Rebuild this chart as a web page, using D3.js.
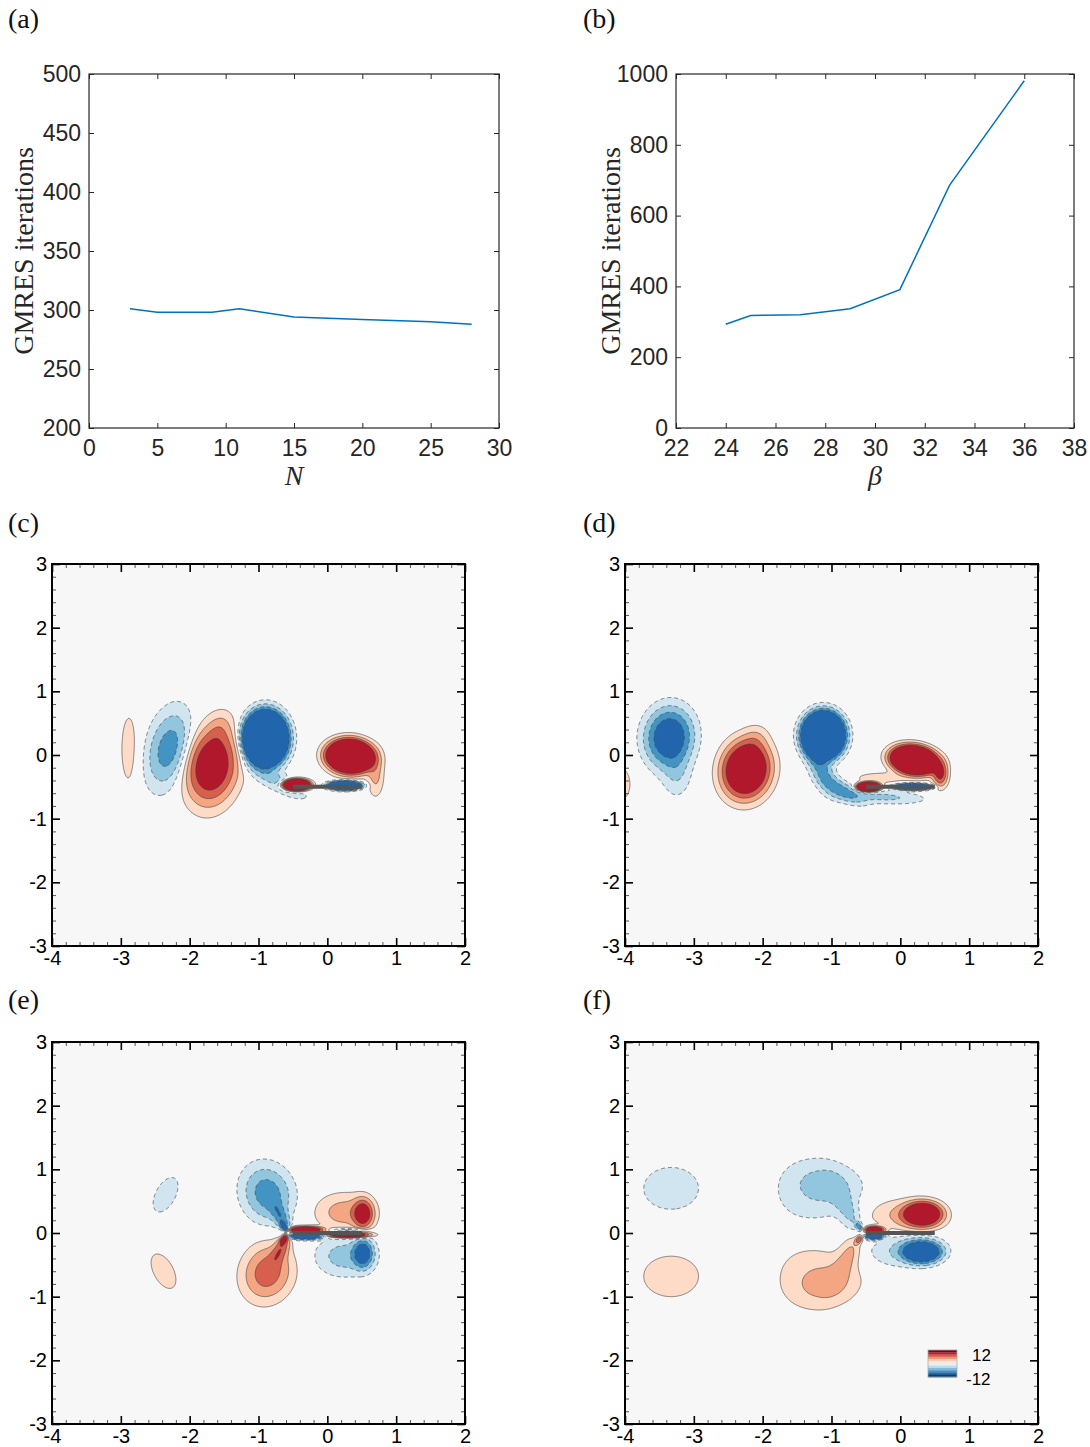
<!DOCTYPE html>
<html><head><meta charset="utf-8">
<script src="https://cdn.jsdelivr.net/npm/d3@7"></script>
<style>body{margin:0;background:#fff;} svg{display:block;}</style>
</head><body>
<script>
// ---------------- data ----------------
const nValues = [3, 5, 7, 9, 11, 15, 20, 25, 28];
const nIterations = [301, 298, 298, 298, 301, 294, 292, 290, 288];
const betaValues = [24, 25, 27, 29, 31, 33, 36];
const betaIterations = [293, 318, 320, 337, 391, 686, 981];
const aXTicks = [0, 5, 10, 15, 20, 25, 30];
const aYTicks = [200, 250, 300, 350, 400, 450, 500];
const bXTicks = [22, 24, 26, 28, 30, 32, 34, 36, 38];
const bYTicks = [0, 200, 400, 600, 800, 1000];
const fieldXTicks = [-4, -3, -2, -1, 0, 1, 2];
const fieldYTicks = [-3, -2, -1, 0, 1, 2, 3];
const contourLevels = [1, 2.5, 4.5, 7];
const posColors = ['#fddbc7', '#f4a582', '#d6604d', '#b2182b'];
const negColors = ['#d1e5f0', '#92c5de', '#4393c3', '#2166ac'];
const legendLabels = ['12', '-12'];
// vortex blobs: [cx, cy, sx, sy, angleDeg, strength]
const vorticesC = [
  [-2.88, 0.08, 0.11, 0.52, 0, 1.6],
  [-2.3, 0.1, 0.2, 0.4, -12, -6],
  [-1.68, -0.17, 0.23, 0.37, -8, 12],
  [-1.56, 0.42, 0.11, 0.18, -15, 1.6],
  [-0.9, 0.26, 0.15, 0.2, 0, -100],
  [-0.72, -0.42, 0.32, 0.1, -30, -3],
  [0.33, -0.02, 0.17, 0.13, -5, 60],
  [0.7, -0.32, 0.08, 0.22, 0, 3],
  [-0.45, -0.47, 0.1, 0.045, 0, 60],
  [0.25, -0.48, 0.12, 0.035, 0, -60]
];
const vorticesD = [
  [-4.1, -0.45, 0.18, 0.28, 0, 1.6],
  [-3.36, 0.28, 0.21, 0.28, -5, -12],
  [-3.25, -0.3, 0.14, 0.25, 0, -2.2],
  [-2.24, -0.23, 0.2, 0.26, -8, 20],
  [-2.1, 0.25, 0.12, 0.15, -15, 1.5],
  [-1.12, 0.31, 0.142, 0.17, 0, -100],
  [-1.15, -0.22, 0.1, 0.25, 25, -5],
  [-0.85, -0.55, 0.22, 0.09, -30, -5],
  [-0.25, -0.66, 0.4, 0.07, -3, -3],
  [0.2, -0.08, 0.17, 0.11, -10, 60],
  [0.58, -0.3, 0.07, 0.13, 0, 8],
  [-0.3, -0.36, 0.25, 0.06, 0, 2],
  [-0.46, -0.5, 0.085, 0.035, 0, 60],
  [0.18, -0.5, 0.13, 0.025, 0, -60]
];
const vorticesE = [
  [-2.35, 0.6, 0.15, 0.3, -25, -1.6],
  [-2.38, -0.6, 0.15, 0.3, 25, 1.6],
  [-0.87, 0.62, 0.23, 0.29, 15, -6],
  [-0.66, 0.22, 0.07, 0.2, 25, -5],
  [-0.87, -0.62, 0.23, 0.29, -15, 6],
  [-0.66, -0.22, 0.07, 0.2, -25, 5],
  [-0.62, -0.08, 0.03, 0.06, -30, 10],
  [-0.62, 0.08, 0.03, 0.06, 30, -10],
  [0.52, 0.3, 0.09, 0.14, 0, 10],
  [0.25, 0.32, 0.28, 0.2, 0, 3.5],
  [0.52, -0.32, 0.09, 0.14, 0, -10],
  [0.25, -0.36, 0.28, 0.21, 0, -3.5],
  [-0.32, 0.05, 0.15, 0.03, 0, 20],
  [-0.32, -0.05, 0.15, 0.03, 0, -20],
  [0.3, -0.03, 0.18, 0.025, 0, 20],
  [0.3, 0.05, 0.18, 0.02, 0, -4]
];
const vorticesF = [
  [-3.33, 0.7, 0.41, 0.34, 0, -1.6],
  [-3.33, -0.68, 0.41, 0.33, 0, 1.6],
  [-1.32, 0.58, 0.4, 0.4, 0, -1.6],
  [-1.05, 0.77, 0.34, 0.22, -10, -2.4],
  [-0.75, 0.33, 0.1, 0.32, 25, -2.7],
  [-0.6, 0.1, 0.03, 0.05, 30, -6],
  [-1.32, -0.62, 0.4, 0.42, 0, 1.5],
  [-1.05, -0.8, 0.32, 0.22, 10, 2.4],
  [-0.75, -0.35, 0.1, 0.32, -25, 2.7],
  [-0.6, -0.1, 0.03, 0.05, -30, 6],
  [0.33, 0.3, 0.16, 0.11, 0, 20],
  [0.08, 0.25, 0.33, 0.17, -10, 3],
  [0.32, -0.3, 0.16, 0.1, 0, -20],
  [0.08, -0.25, 0.33, 0.17, 10, -3],
  [-0.38, 0.05, 0.08, 0.03, 0, 20],
  [-0.38, -0.05, 0.08, 0.03, 0, -20]
];
const plateC = [[-0.5, -0.5], [0.5, -0.5]];
const plateD = [[-0.5, -0.5], [0.5, -0.5]];
const plateE = [[-0.5, 0], [0.5, 0]];
const plateF = [[-0.5, 0], [0.5, 0]];

// ---------------- drawing ----------------
const SANS = '"Liberation Sans", Arial, Helvetica, sans-serif';
const SERIF = '"Liberation Serif", "Times New Roman", serif';
const svg = d3.select('body').append('svg').attr('width', 1090).attr('height', 1447);

function panelLabel(x, y, t) {
  svg.append('text').attr('x', x).attr('y', y).attr('font-family', SERIF)
    .attr('font-size', 28).attr('fill', '#111').text(t);
}

function linePanel(o) {
  const xs = d3.scaleLinear(o.xDomain, [o.x0, o.x1]);
  const ys = d3.scaleLinear(o.yDomain, [o.y1, o.y0]);
  const g = svg.append('g');
  const fmt = d => String(d);
  const style = sel => {
    sel.select('.domain').remove();
    sel.selectAll('line').attr('stroke', '#262626').attr('stroke-width', 1);
    sel.selectAll('text').attr('font-family', SANS).attr('font-size', 23).attr('fill', '#262626');
  };
  g.append('g').attr('transform', `translate(0,${o.y1})`)
    .call(d3.axisBottom(xs).tickValues(o.xTicks).tickSize(-5).tickPadding(12).tickFormat(fmt)).call(style);
  g.append('g').attr('transform', `translate(0,${o.y0})`)
    .call(d3.axisTop(xs).tickValues(o.xTicks).tickSize(-5).tickFormat('')).call(style);
  g.append('g').attr('transform', `translate(${o.x0},0)`)
    .call(d3.axisLeft(ys).tickValues(o.yTicks).tickSize(-5).tickPadding(8).tickFormat(fmt)).call(style);
  g.append('g').attr('transform', `translate(${o.x1},0)`)
    .call(d3.axisRight(ys).tickValues(o.yTicks).tickSize(-5).tickFormat('')).call(style);
  g.append('rect').attr('x', o.x0).attr('y', o.y0).attr('width', o.x1 - o.x0).attr('height', o.y1 - o.y0)
    .attr('fill', 'none').attr('stroke', '#262626').attr('stroke-width', 1.2);
  const pts = o.xs.map((x, i) => [x, o.ys[i]]);
  g.append('path').datum(pts)
    .attr('d', d3.line().x(d => xs(d[0])).y(d => ys(d[1])))
    .attr('fill', 'none').attr('stroke', '#0072BD').attr('stroke-width', 1.5);
  g.append('text').attr('transform', `translate(${o.x0 - 56},${(o.y0 + o.y1) / 2}) rotate(-90)`)
    .attr('text-anchor', 'middle').attr('font-family', SERIF).attr('font-size', 28)
    .attr('fill', '#262626').text('GMRES iterations');
  g.append('text').attr('x', (o.x0 + o.x1) / 2).attr('y', o.y1 + 57)
    .attr('text-anchor', 'middle').attr('font-family', SERIF).attr('font-style', 'italic')
    .attr('font-size', 28).attr('fill', '#262626').text(o.xLabel);
}

linePanel({x0: 89, x1: 499, y0: 74, y1: 428, xDomain: [0, 30], yDomain: [200, 500],
  xTicks: aXTicks, yTicks: aYTicks, xs: nValues, ys: nIterations, xLabel: 'N'});
linePanel({x0: 676, x1: 1074, y0: 74, y1: 428, xDomain: [22, 38], yDomain: [0, 1000],
  xTicks: bXTicks, yTicks: bYTicks, xs: betaValues, ys: betaIterations, xLabel: 'β'});
panelLabel(8, 28, '(a)');
panelLabel(583, 28, '(b)');

const H = 0.01, NX = 601, NY = 601;
function computeField(blobs) {
  const v = new Float64Array(NX * NY);
  for (const [cx, cy, sx, sy, ang, amp] of blobs) {
    const t = ang * Math.PI / 180, c = Math.cos(t), s = Math.sin(t);
    const R = 4.6 * Math.max(sx, sy);
    const i0 = Math.max(0, Math.floor((cx - R + 4) / H)), i1 = Math.min(NX - 1, Math.ceil((cx + R + 4) / H));
    const j0 = Math.max(0, Math.floor((3 - (cy + R)) / H)), j1 = Math.min(NY - 1, Math.ceil((3 - (cy - R)) / H));
    const isx = 1 / (sx * sx), isy = 1 / (sy * sy);
    for (let j = j0; j <= j1; j++) {
      const dy = 3 - j * H - cy;
      for (let i = i0; i <= i1; i++) {
        const dx = -4 + i * H - cx;
        const u = dx * c + dy * s, w = -dx * s + dy * c;
        v[j * NX + i] += amp * Math.exp(-0.5 * (u * u * isx + w * w * isy));
      }
    }
  }
  return v;
}

let clipId = 0;
function fieldPanel(o) {
  const xs = d3.scaleLinear([-4, 2], [o.x0, o.x1]);
  const ys = d3.scaleLinear([-3, 3], [o.y1, o.y0]);
  const g = svg.append('g');
  const id = 'clip' + (clipId++);
  g.append('clipPath').attr('id', id).append('rect')
    .attr('x', o.x0).attr('y', o.y0).attr('width', o.x1 - o.x0).attr('height', o.y1 - o.y0);
  const inner = g.append('g').attr('clip-path', `url(#${id})`);
  inner.append('rect').attr('x', o.x0).attr('y', o.y0).attr('width', o.x1 - o.x0).attr('height', o.y1 - o.y0)
    .attr('fill', '#f7f7f7');
  const field = computeField(o.blobs);
  const neg = field.map(v => -v);
  const gen = d3.contours().size([NX, NY]).thresholds(contourLevels);
  const posC = gen(field), negC = gen(neg);
  const proj = d3.geoTransform({point(px, py) {
    this.stream.point(xs(-4 + (px - 0.5) * H), ys(3 - (py - 0.5) * H));
  }});
  const path = d3.geoPath(proj);
  posC.forEach((c, k) => inner.append('path').attr('d', path(c)).attr('fill', posColors[k]));
  negC.forEach((c, k) => inner.append('path').attr('d', path(c)).attr('fill', negColors[k]));
  posC.forEach(c => inner.append('path').attr('d', path(c)).attr('fill', 'none')
    .attr('stroke', '#3a3a3a').attr('stroke-width', 0.6));
  negC.forEach(c => inner.append('path').attr('d', path(c)).attr('fill', 'none')
    .attr('stroke', '#4a4a4a').attr('stroke-width', 0.7).attr('stroke-dasharray', '4,3'));
  inner.append('path').datum(o.plate)
    .attr('d', d3.line().x(d => xs(d[0])).y(d => ys(d[1])))
    .attr('stroke', '#555').attr('stroke-width', 4).attr('fill', 'none');

  // axes
  const fmt = d => String(d);
  const minorX = d3.range(-20, 11).map(k => k / 5).filter(v => !Number.isInteger(v));
  const minorY = d3.range(-15, 16).map(k => k / 5).filter(v => !Number.isInteger(v));
  const styleMaj = sel => {
    sel.select('.domain').remove();
    sel.selectAll('line').attr('stroke', '#000').attr('stroke-width', 1.6);
    sel.selectAll('text').attr('font-family', SANS).attr('font-size', 20).attr('fill', '#000');
  };
  const styleMin = sel => {
    sel.select('.domain').remove();
    sel.selectAll('line').attr('stroke', '#555').attr('stroke-width', 1);
  };
  g.append('g').attr('transform', `translate(0,${o.y1})`)
    .call(d3.axisBottom(xs).tickValues(minorX).tickSize(-4).tickFormat('')).call(styleMin);
  g.append('g').attr('transform', `translate(0,${o.y0})`)
    .call(d3.axisTop(xs).tickValues(minorX).tickSize(-4).tickFormat('')).call(styleMin);
  g.append('g').attr('transform', `translate(${o.x0},0)`)
    .call(d3.axisLeft(ys).tickValues(minorY).tickSize(-4).tickFormat('')).call(styleMin);
  g.append('g').attr('transform', `translate(${o.x1},0)`)
    .call(d3.axisRight(ys).tickValues(minorY).tickSize(-4).tickFormat('')).call(styleMin);
  g.append('g').attr('transform', `translate(0,${o.y1})`)
    .call(d3.axisBottom(xs).tickValues(fieldXTicks).tickSize(-8).tickPadding(5).tickFormat(fmt)).call(styleMaj);
  g.append('g').attr('transform', `translate(0,${o.y0})`)
    .call(d3.axisTop(xs).tickValues(fieldXTicks).tickSize(-8).tickFormat('')).call(styleMaj);
  g.append('g').attr('transform', `translate(${o.x0},0)`)
    .call(d3.axisLeft(ys).tickValues(fieldYTicks).tickSize(-8).tickPadding(5).tickFormat(fmt)).call(styleMaj);
  g.append('g').attr('transform', `translate(${o.x1},0)`)
    .call(d3.axisRight(ys).tickValues(fieldYTicks).tickSize(-8).tickFormat('')).call(styleMaj);
  g.append('rect').attr('x', o.x0).attr('y', o.y0).attr('width', o.x1 - o.x0).attr('height', o.y1 - o.y0)
    .attr('fill', 'none').attr('stroke', '#000').attr('stroke-width', 2);

  if (o.legend) {
    const lx = 928, ly = 1350, lw = 29, lh = 27, nb = 12;
    const cols = d3.quantize(t => d3.interpolateRdBu(0.02 + 0.96 * t), nb);
    const lg = g.append('g');
    cols.forEach((c, i) => lg.append('rect').attr('x', lx).attr('y', ly + i * lh / nb)
      .attr('width', lw).attr('height', lh / nb + 0.3).attr('fill', c));
    lg.append('rect').attr('x', lx).attr('y', ly).attr('width', lw).attr('height', lh)
      .attr('fill', 'none').attr('stroke', '#aaa').attr('stroke-width', 0.8);
    lg.append('text').attr('x', 972).attr('y', 1361).attr('font-family', SANS).attr('font-size', 17)
      .attr('fill', '#000').text(legendLabels[0]);
    lg.append('text').attr('x', 966).attr('y', 1385).attr('font-family', SANS).attr('font-size', 17)
      .attr('fill', '#000').text(legendLabels[1]);
  }
}

fieldPanel({x0: 52, x1: 465, y0: 564, y1: 946, blobs: vorticesC, plate: plateC});
fieldPanel({x0: 625, x1: 1038, y0: 564, y1: 946, blobs: vorticesD, plate: plateD});
fieldPanel({x0: 52, x1: 465, y0: 1042, y1: 1424, blobs: vorticesE, plate: plateE});
fieldPanel({x0: 625, x1: 1038, y0: 1042, y1: 1424, blobs: vorticesF, plate: plateF, legend: true});
panelLabel(8, 532, '(c)');
panelLabel(583, 532, '(d)');
panelLabel(8, 1009, '(e)');
panelLabel(583, 1009, '(f)');
</script>
</body></html>
